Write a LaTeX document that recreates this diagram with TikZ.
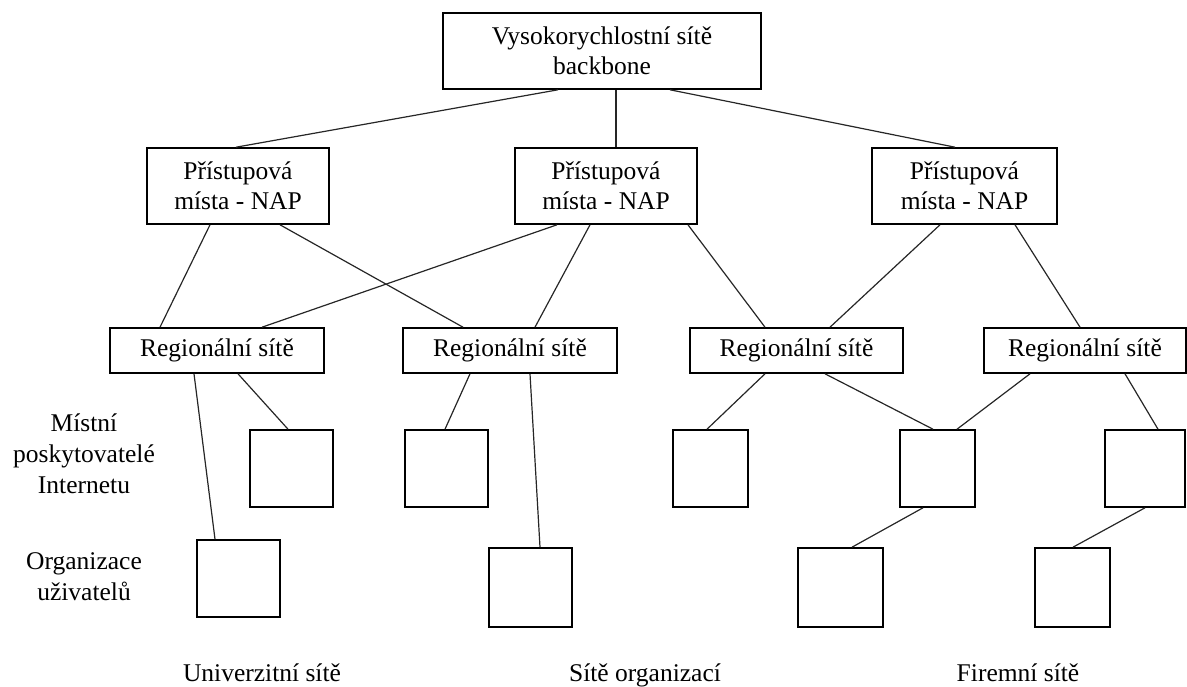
\documentclass[tikz,border=0pt]{standalone}
\usepackage{fontspec}
\setmainfont{Liberation Serif}
\begin{document}
\begin{tikzpicture}[x=1pt,y=-1pt,
  box/.style={draw=black,line width=1.6pt,inner sep=0pt,font=\fontsize{25.5}{30}\selectfont,align=center},
  sq/.style={draw=black,line width=1.6pt,inner sep=0pt,minimum width=83pt,minimum height=77pt},
  lbl/.style={font=\fontsize{25.5}{31}\selectfont,align=center,inner sep=0pt},
  conn/.style={line width=1.2pt,draw=black!85}]
\useasboundingbox (0,0) rectangle (1187,687);
% top
\node[box,minimum width=318pt,minimum height=76pt] (top) at (602,51) {Vysokorychlostní sítě\\backbone};
% NAPs
\node[box,minimum width=182pt,minimum height=76pt] (n1) at (238,186) {Přístupová\\místa - NAP};
\node[box,minimum width=182pt,minimum height=76pt] (n2) at (606,186) {Přístupová\\místa - NAP};
\node[box,minimum width=185pt,minimum height=76pt] (n3) at (964.5,186) {Přístupová\\místa - NAP};
% regional
\node[box,minimum width=214pt,minimum height=45pt] (r1) at (217,350.5) {Regionální sítě};
\node[box,minimum width=214pt,minimum height=45pt] (r2) at (510,350.5) {Regionální sítě};
\node[box,minimum width=213pt,minimum height=45pt] (r3) at (796.5,350.5) {Regionální sítě};
\node[box,minimum width=202pt,minimum height=45pt] (r4) at (1085,350.5) {Regionální sítě};
% ISP squares
\node[sq] (b1) at (291.5,468.5) {};
\node[sq] (b2) at (446.5,468.5) {};
\node[sq,minimum width=75pt] (b3) at (710.5,468.5) {};
\node[sq,minimum width=75pt] (b4) at (937.5,468.5) {};
\node[sq,minimum width=80pt] (b5) at (1145,468.5) {};
% org squares
\node[sq] (c1) at (238.5,578.5) {};
\node[sq,minimum height=79pt] (c2) at (530.2,587.5) {};
\node[sq,minimum height=79pt,minimum width=85pt] (c3) at (840.5,587.5) {};
\node[sq,minimum height=79pt,minimum width=75pt] (c4) at (1072.5,587.5) {};
% labels
\node[lbl] (l1) at (84,454) {Místní\\poskytovatelé\\Internetu};
\node[lbl] (l2) at (84,577) {Organizace\\uživatelů};
\node[lbl,anchor=base] (u1) at (262,681) {Univerzitní sítě};
\node[lbl,anchor=base] (u2) at (645,681) {Sítě organizací};
\node[lbl,anchor=base] (u3) at (1018,681) {Firemní sítě};
% connectors top -> NAP
\draw[conn] (top.south -| 558,0) -- (n1.north -| 236,0);
\draw[conn] (top.south -| 616,0) -- (n2.north -| 616,0);
\draw[conn] (top.south -| 670,0) -- (n3.north -| 955,0);
% NAP -> regional
\draw[conn] (n1.south -| 210,0) -- (r1.north -| 160,0);
\draw[conn] (n1.south -| 280,0) -- (r2.north -| 463,0);
\draw[conn] (n2.south -| 557,0) -- (r1.north -| 262,0);
\draw[conn] (n2.south -| 590,0) -- (r2.north -| 535,0);
\draw[conn] (n2.south -| 688,0) -- (r3.north -| 765,0);
\draw[conn] (n3.south -| 940,0) -- (r3.north -| 830,0);
\draw[conn] (n3.south -| 1015,0) -- (r4.north -| 1080,0);
% regional -> squares
\draw[conn] (r1.south -| 194,0) -- (c1.north -| 215,0);
\draw[conn] (r1.south -| 238,0) -- (b1.north -| 288,0);
\draw[conn] (r2.south -| 470,0) -- (b2.north -| 445,0);
\draw[conn] (r2.south -| 530,0) -- (c2.north -| 540,0);
\draw[conn] (r3.south -| 765,0) -- (b3.north -| 707,0);
\draw[conn] (r3.south -| 825,0) -- (b4.north -| 933,0);
\draw[conn] (r4.south -| 1030,0) -- (b4.north -| 957,0);
\draw[conn] (r4.south -| 1125,0) -- (b5.north -| 1158,0);
\draw[conn] (b4.south -| 923,0) -- (c3.north -| 852,0);
\draw[conn] (b5.south -| 1145,0) -- (c4.north -| 1073,0);
\end{tikzpicture}
\end{document}
